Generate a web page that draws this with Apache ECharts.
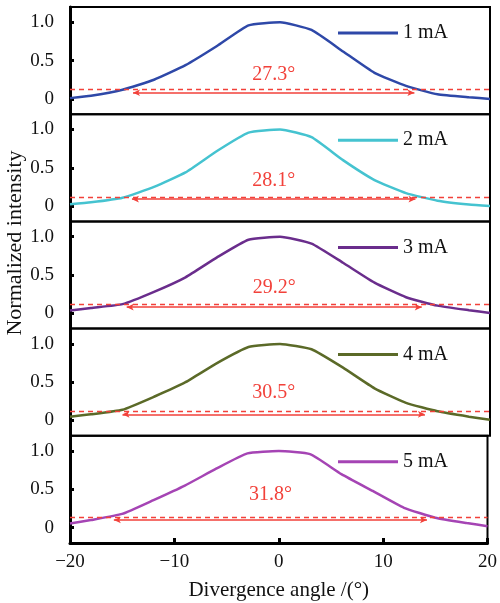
<!DOCTYPE html>
<html><head><meta charset="utf-8">
<script src="https://cdn.jsdelivr.net/npm/echarts@6/dist/echarts.min.js"></script>
<style>html,body{margin:0;padding:0;background:#fff}#c{width:500px;height:603px}</style>
</head><body><div id="c"></div>
<script>
const angles = [-20, -18, -15, -12, -9, -6, -3, 0, 3, 6, 9, 12, 15, 18, 20];
const names = ['1 mA', '2 mA', '3 mA', '4 mA', '5 mA'];
const i1 = [0.01, 0.04, 0.12, 0.25, 0.44, 0.69, 0.96, 1.0, 0.9, 0.62, 0.34, 0.17, 0.06, 0.02, 0.0];
const i2 = [0.025, 0.05, 0.11, 0.25, 0.44, 0.72, 0.96, 1.0, 0.9, 0.6, 0.34, 0.17, 0.07, 0.02, 0.0];
const i3 = [0.035, 0.07, 0.12, 0.28, 0.47, 0.73, 0.96, 1.0, 0.91, 0.66, 0.4, 0.21, 0.1, 0.04, 0.005];
const i4 = [0.05, 0.08, 0.14, 0.31, 0.5, 0.75, 0.96, 1.0, 0.93, 0.69, 0.42, 0.23, 0.12, 0.05, 0.01];
const i5 = [0.055, 0.1, 0.18, 0.36, 0.55, 0.77, 0.97, 1.0, 0.96, 0.7, 0.48, 0.26, 0.13, 0.06, 0.02];
const intensities = [i1, i2, i3, i4, i5];
const widths = ['27.3°', '28.1°', '29.2°', '30.5°', '31.8°'];
const thresholds = [0.13, 0.12, 0.115, 0.12, 0.125];
const arrowLevel = [0.08, 0.09, 0.08, 0.08, 0.10];
const arrowStart = [-14.0, -14.1, -14.6, -15.0, -15.8];
const arrowEnd = [12.8, 12.9, 13.5, 13.8, 14.2];
const yTicks = [0, 0.5, 1];
const xTicks = [-20, -10, 0, 10, 20];

const colors = ['#2e48a8', '#45c3d0', '#6a2d8c', '#5b6a28', '#a544b4'];
const red = '#f2413a';
const font = 'Liberation Serif';
const labelDist = [8, 8, 9, 12, 15];

const chart = echarts.init(document.getElementById('c'), null, {renderer: 'canvas'});
const grids = [], xAxes = [], yAxes = [], series = [], legends = [];
const top0 = 7, ph = 107.2;
for (let i = 0; i < 5; i++) {
  const t = top0 + i * ph;
  const last = i === 4;
  grids.push({left: 70, width: 420, top: t, height: ph, show: true, borderColor: '#000', borderWidth: 2, backgroundColor: 'transparent'});
  xAxes.push({
    type: 'value', gridIndex: i, min: -20, max: 20, interval: 10,
    axisLine: {show: last, onZero: false, lineStyle: {color: '#000', width: 3}},
    axisTick: {show: last, inside: true, length: 5, lineStyle: {color: '#000', width: 3}},
    axisLabel: {show: last, color: '#111', fontFamily: font, fontSize: 19, margin: 10, customValues: xTicks,
      formatter: v => String(v).replace('-', '\u2212')},
    splitLine: {show: false},
    name: last ? 'Divergence angle /(°)' : '', nameLocation: 'middle', nameGap: 37,
    nameTextStyle: {color: '#111', fontFamily: font, fontSize: 21}
  });
  yAxes.push({
    type: 'value', gridIndex: i, min: -0.2, max: 1.2,
    axisLine: {show: true, onZero: false, lineStyle: {color: '#000', width: 3}},
    axisTick: {show: true, inside: true, length: 4, customValues: yTicks, lineStyle: {color: '#000', width: 3}},
    axisLabel: {show: true, customValues: yTicks, color: '#111', fontFamily: font, fontSize: 19, margin: 16,
      formatter: v => v === 0 ? '0' : v.toFixed(1)},
    splitLine: {show: false}
  });
  series.push({
    name: names[i], type: 'line', xAxisIndex: i, yAxisIndex: i,
    data: angles.map((a, k) => [a, intensities[i][k]]),
    showSymbol: false, smooth: 0.15, lineStyle: {color: colors[i], width: 2.5}, itemStyle: {color: colors[i]},
    z: 3,
    markLine: {
      silent: true, animation: false, symbol: 'none',
      data: [
        {yAxis: thresholds[i], lineStyle: {type: [5, 4], color: red, width: 1.3}, label: {show: false}},
        [
          {coord: [arrowStart[i], arrowLevel[i]], symbol: 'arrow', symbolSize: [5, 7],
           lineStyle: {type: 'solid', color: red, width: 1.5},
           label: {show: true, position: 'middle', formatter: widths[i], color: red, fontFamily: font, fontSize: 20, distance: labelDist[i]}},
          {coord: [arrowEnd[i], arrowLevel[i]], symbol: 'arrow', symbolSize: [5, 7]}
        ]
      ]
    }
  });
  legends.push({
    data: [names[i]], left: 333, top: t + 11, icon: 'rect', itemWidth: 60, itemHeight: 3, itemGap: 5,
    textStyle: {color: '#111', fontFamily: font, fontSize: 20}
  });
}
chart.setOption({
  animation: false,
  grid: grids, xAxis: xAxes, yAxis: yAxes, series: series, legend: legends,
  graphic: [{
    type: 'text', x: 15, y: 243, rotation: Math.PI / 2,
    style: {text: 'Normalized intensity', fill: '#111', font: '22px "Liberation Serif"', align: 'center', verticalAlign: 'middle'}
  }]
});
</script></body></html>
